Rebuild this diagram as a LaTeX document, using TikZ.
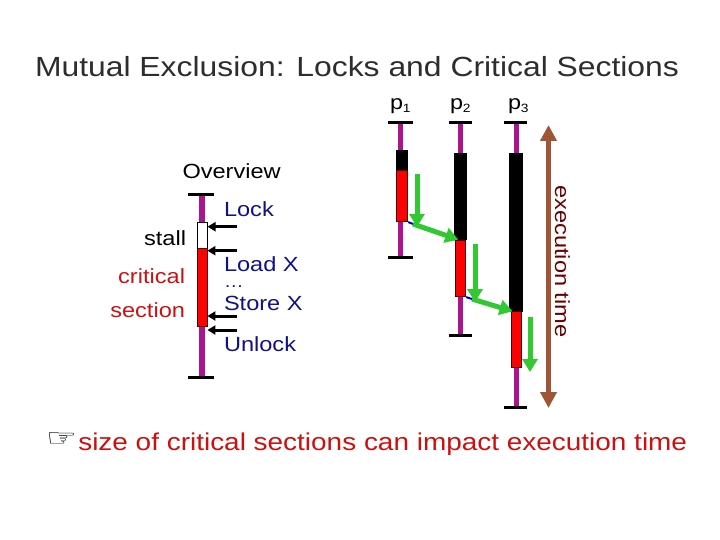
\documentclass[tikz,border=0pt]{standalone}
\usepackage{fontspec}
\setmainfont[FakeStretch=1.15]{Liberation Sans}
\newfontfamily\symfnt{DejaVu Sans}
\usetikzlibrary{arrows.meta}
\definecolor{mag}{RGB}{170,20,140}
\definecolor{navyc}{RGB}{16,16,135}
\definecolor{redc}{RGB}{204,16,16}
\definecolor{maroonc}{RGB}{102,0,0}
\definecolor{brownc}{RGB}{160,85,55}
\definecolor{grn}{RGB}{50,200,50}
\definecolor{titlec}{RGB}{45,45,45}
\tikzset{
  txt/.style={inner sep=0pt, outer sep=0pt, font=\fontsize{20.5}{24}\selectfont},
  navytxt/.style={txt, text=navyc, anchor=base west},
  proc/.style={line width=5pt, draw=mag},
  tickmark/.style={line width=3pt, draw=black},
  csbox/.style={rectangle, inner sep=0pt, fill=red, draw=black!70!red, line width=0.8pt},
  waitbox/.style={rectangle, inner sep=0pt, fill=black},
  stallbox/.style={rectangle, inner sep=0pt, fill=white, draw=black, line width=1pt},
  garrow/.style={draw=grn, line width=5pt, -{Triangle[width=15pt,length=13pt]}},
  blkarrow/.style={draw=black, line width=3pt, -{Triangle[width=9pt,length=8pt]}},
  handoff/.style={draw=blue!80!black, line width=2pt},
  timearrow/.style={draw=brownc, line width=5pt, {Triangle[width=16pt,length=16pt]}-{Triangle[width=16pt,length=16pt]}}
}
\begin{document}
\begin{tikzpicture}[x=1pt,y=-1pt]
\useasboundingbox (0,0) rectangle (720,540);
% title
\node[txt, font=\fontsize{27.7}{32}\selectfont, text=titlec, anchor=base] (title) at (357,77) {Mutual Exclusion: Locks and Critical Sections};
% ---------- left overview diagram ----------
\node[txt, anchor=base west] (overview) at (182.5,179) {Overview};
\draw[proc, line width=6pt] (201.5,195) -- (201.5,377);
\draw[tickmark] (188,195) -- (213.5,195);
\draw[tickmark] (188,377) -- (213.5,377);
\node[stallbox, minimum width=10pt, minimum height=25pt] (stall) at (202,235.5) {};
\node[csbox, minimum width=10pt, minimum height=78.7pt] (cs0) at (202,287.35) {};
\coordinate (l1) at (237,226.7);
\coordinate (l2) at (237,250.7);
\coordinate (l3) at (237,316);
\coordinate (l4) at (237,330);
\draw[blkarrow] (l1) -- (l1 -| stall.east);
\draw[blkarrow] (l2) -- (l2 -| cs0.east);
\draw[blkarrow] (l3) -- (l3 -| cs0.east);
\draw[blkarrow] (l4) -- (l4 -| cs0.east);
\node[navytxt] (lock) at (224,217) {Lock};
\node[navytxt, text depth=0pt] (load) at (224,271) {Load X};
\node[navytxt, font=\fontsize{17}{17}\selectfont, text height=3pt, text depth=0pt] (dots) at (224,287.5) {…};
\node[navytxt] (store) at (224,310) {Store X};
\node[navytxt] (unlock) at (224,351.7) {Unlock};
\node[txt, anchor=base east] (stalltxt) at (186,245) {stall};
\node[txt, anchor=base east, text=redc] (crit) at (185,283.3) {critical};
\node[txt, anchor=base east, text=redc] (sect) at (185,317.7) {section};
% ---------- right timeline diagram ----------
\node[txt, font=\fontsize{20.3}{24}\selectfont, anchor=base west] (p1) at (390,109.4) {p\raisebox{-3.6pt}{\fontsize{12}{12}\selectfont 1}};
\node[txt, font=\fontsize{20.3}{24}\selectfont, anchor=base west] (p2) at (450,109.4) {p\raisebox{-3.6pt}{\fontsize{12}{12}\selectfont 2}};
\node[txt, font=\fontsize{20.3}{24}\selectfont, anchor=base west] (p3) at (508,109.4) {p\raisebox{-3.6pt}{\fontsize{12}{12}\selectfont 3}};
% process lines
\draw[proc] (400,123) -- (400,257);
\draw[proc] (460,123) -- (460,335);
\draw[proc] (516,123) -- (516,407);
\draw[tickmark] (388,123) -- (413,123);
\draw[tickmark] (388,257) -- (413,257);
\draw[tickmark] (449,123) -- (472,123);
\draw[tickmark] (449,335) -- (472,335);
\draw[tickmark] (504,123) -- (527,123);
\draw[tickmark] (504,407) -- (527,407);
% boxes
\node[waitbox, minimum width=12.3pt, minimum height=20pt] (w1) at (402.15,160) {};
\node[csbox, minimum width=11pt, minimum height=51.7pt] (cs1) at (402.2,195.85) {};
\node[waitbox, minimum width=13.3pt, minimum height=86.7pt] (w2) at (460.65,196.65) {};
\node[csbox, minimum width=10pt, minimum height=56.7pt] (cs2) at (460.7,268.35) {};
\node[waitbox, minimum width=14pt, minimum height=158.4pt] (w3) at (516.3,232.5) {};
\node[csbox, minimum width=10.7pt, minimum height=55.3pt] (cs3) at (516.35,339.35) {};
% hand-off lines
\draw[handoff] (cs1.south east) -- (cs2.north west);
\draw[handoff] (cs2.south east) -- (cs3.north west);
% green arrows
\coordinate (g1s) at (417,174);
\coordinate (g1e) at (417,227);
\coordinate (g2s) at (475,244);
\coordinate (g2e) at (475,302);
\coordinate (g3s) at (530,317);
\coordinate (g3e) at (530,372);
\draw[garrow] (g1s) -- (g1e);
\draw[garrow] (413,224) -- ([xshift=3pt]cs2.north west);
\draw[garrow] (g2s) -- (g2e);
\draw[garrow] (472,299) -- ([xshift=2pt]cs3.north west);
\draw[garrow] (g3s) -- (g3e);
% execution time
\coordinate (ttop) at (548.5,125);
\coordinate (tbot) at (548.5,408);
\draw[timearrow] (ttop) -- (tbot);
\node[txt, text=maroonc, rotate=-90, anchor=base] (exec) at (555,261.5) {execution time};
% bottom remark
\node[inner sep=0pt, anchor=north west] (hand) at (46,432) {\resizebox{31pt}{14pt}{\symfnt ☞}};
\node[txt, font=\fontsize{24.3}{28}\selectfont, text=redc, anchor=base west] (remark) at (78.3,450) {size of critical sections can impact execution time};
\end{tikzpicture}
\end{document}
